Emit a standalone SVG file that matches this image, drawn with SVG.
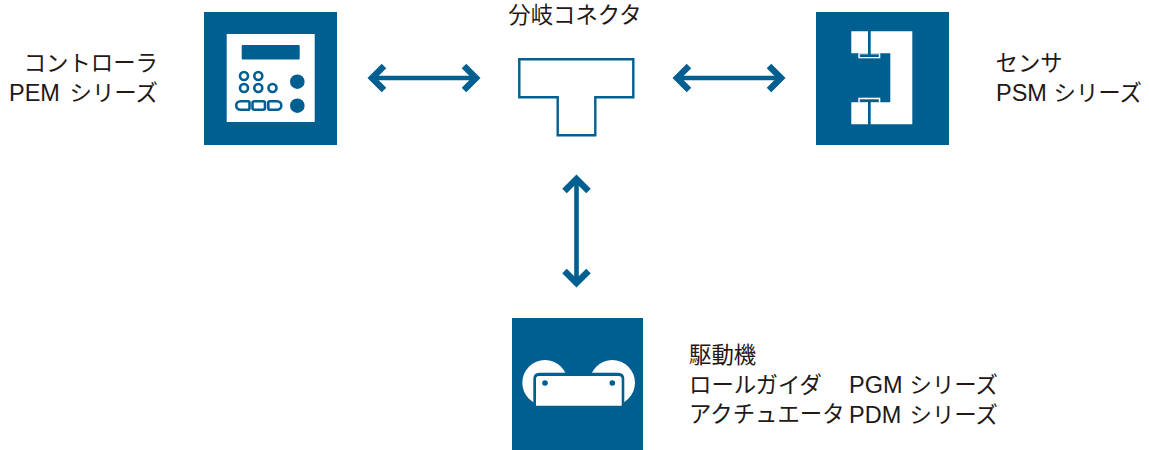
<svg xmlns="http://www.w3.org/2000/svg" width="1150" height="450" viewBox="0 0 1150 450">
<style>
.t{font-family:"Liberation Sans","Noto Sans CJK JP",sans-serif;font-size:22.400px;fill:#231815}
.l{font-size:23.500px}
.bg{fill:#005f91}
.w{fill:#fff}
.b{fill:#005f91}
.ol{fill:#fff;stroke:#005f91;stroke-width:2.600}
.shaft{fill:none;stroke:#005f91;stroke-width:4.600}
.head{fill:none;stroke:#005f91;stroke-width:6.400}
</style>
<rect width="1150" height="450" fill="#fff"/>
<g id="connectors">
<g id="c1"><path class="shaft" d="M372 78H476"/><path class="head" d="M384 66L372 78L384 90M464 66L476 78L464 90"/></g>
<g id="c2"><path class="shaft" d="M677 78H781"/><path class="head" d="M689 66L677 78L689 90M769 66L781 78L769 90"/></g>
<g id="c3"><path class="shaft" d="M576.500 179V283"/><path class="head" d="M564.500 191L576.500 179L588.500 191M564.500 271L576.500 283L588.500 271"/></g>
</g>
<g id="controller">
<rect class="bg" x="204" y="12" width="133" height="133"/>
<rect class="w" x="226.700" y="34" width="88" height="88"/>
<rect class="b" x="241.700" y="45" width="58" height="14.500" rx="1"/>
<circle class="ol" cx="244" cy="76" r="4"/><circle class="ol" cx="258.300" cy="76" r="4"/>
<circle class="ol" cx="244" cy="88" r="4"/><circle class="ol" cx="258.300" cy="88" r="4"/><circle class="ol" cx="272.500" cy="88" r="4"/>
<circle class="b" cx="297.300" cy="81.700" r="7.300"/><circle class="b" cx="297.300" cy="105.700" r="7.300"/>
<path class="ol" d="M240.500 101.200H248Q249.500 101.200 249.500 102.700V108.300Q249.500 109.800 248 109.800H240.500A4.300 4.300 0 0 1 240.500 101.200Z"/>
<rect class="ol" x="252.500" y="101.200" width="12.500" height="8.600" rx="2"/>
<path class="ol" d="M268.300 102.700Q268.300 101.200 269.800 101.200H277A4.300 4.300 0 0 1 277 109.800H269.800Q268.300 109.800 268.300 108.300Z"/>
<text class="t" x="158" y="71" text-anchor="end">コントローラ</text>
<text class="t" y="100.800"><tspan class="l" x="9">PEM </tspan><tspan x="69.500">シリーズ</tspan></text>
</g>
<g id="branch">
<path fill="#fff" stroke="#005f91" stroke-width="2.400" d="M519.300 59.300H633.300V97.300H595.300V135.300H557.700V97.300H519.300Z"/>
<text class="t" x="575" y="23" text-anchor="middle">分岐コネクタ</text>
</g>
<g id="sensor">
<rect class="bg" x="816" y="12" width="133" height="133"/>
<path class="w" d="M851.300 31.300H868V53.300H851.300ZM851.300 102.300H868V124.300H851.300Z"/>
<path class="w" d="M870.700 31.300H912.300V124.300H870.700V102.300H890.300V53.300H870.700Z"/>
<rect class="w" x="858.300" y="53.300" width="22" height="5"/>
<rect class="b" x="859.800" y="54.300" width="19" height="2.700"/>
<rect class="b" x="868" y="53" width="2.700" height="2"/>
<rect class="w" x="858.300" y="97.700" width="22" height="4.600"/>
<rect class="b" x="859.800" y="99.300" width="19" height="2.700"/>
<rect class="b" x="868" y="101" width="2.700" height="2"/>
<text class="t" x="995.500" y="71">センサ</text>
<text class="t" y="100.800"><tspan class="l" x="996">PSM </tspan><tspan x="1053.500">シリーズ</tspan></text>
</g>
<g id="drive">
<rect class="bg" x="512" y="318" width="131" height="132"/>
<circle class="w" cx="545" cy="382.700" r="22.700"/><circle class="w" cx="612.300" cy="382.700" r="22.700"/>
<path class="b" d="M533.300 410V378.700Q533.300 372.700 539.300 372.700H618.300Q624.300 372.700 624.300 378.700V410Z"/>
<path class="w" d="M536 405.700V379Q536 376 539 376H618.700Q621.700 376 621.700 379V405.700Z"/>
<circle class="b" cx="545" cy="383" r="2.800"/><circle class="b" cx="612.300" cy="383" r="2.800"/>
<text class="t" x="689" y="362.500">駆動機</text>
<text class="t" x="689" y="392.500">ロールガイダ</text>
<text class="t" y="392.800"><tspan class="l" x="849">PGM </tspan><tspan x="909.500">シリーズ</tspan></text>
<text class="t" x="689" y="422">アクチュエータ</text>
<text class="t" y="422.500"><tspan class="l" x="849">PDM </tspan><tspan x="909.500">シリーズ</tspan></text>
</g>
</svg>
